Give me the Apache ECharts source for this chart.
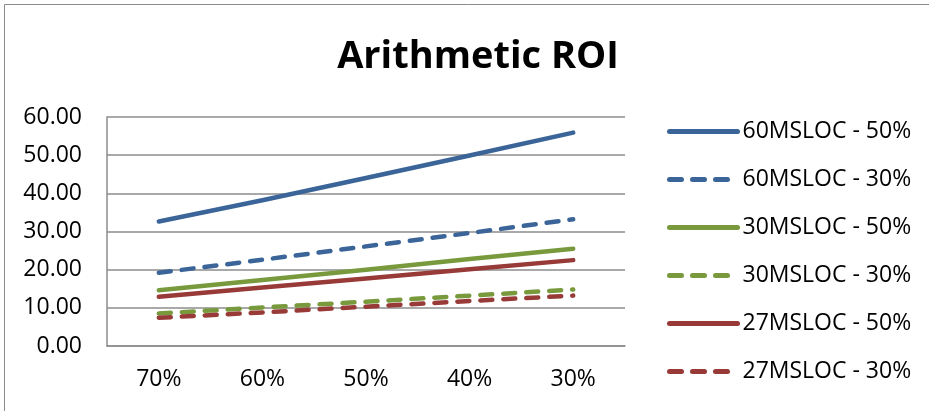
<!DOCTYPE html>
<html>
<head>
<meta charset="utf-8">
<script src="https://cdn.jsdelivr.net/npm/echarts@6/dist/echarts.min.js"></script>
<style>
  html, body { margin: 0; padding: 0; background: #ffffff; }
  #chart { width: 929px; height: 411px; }
</style>
</head>
<body>
<div id="chart"></div>
<script>
// Categories along the x axis
const categories = ['70%', '60%', '50%', '40%', '30%'];

// ROI values per scenario
const roi60_50 = [32.6, 38.2, 44.0, 49.9, 55.9];
const roi60_30 = [19.2, 22.6, 26.1, 29.6, 33.2];
const roi30_50 = [14.6, 17.3, 20.0, 22.8, 25.5];
const roi30_30 = [8.5, 10.1, 11.6, 13.2, 14.8];
const roi27_50 = [12.9, 15.3, 17.7, 20.1, 22.5];
const roi27_30 = [7.4, 8.8, 10.3, 11.8, 13.2];

const seriesNames = [
  '60MSLOC - 50%', '60MSLOC - 30%',
  '30MSLOC - 50%', '30MSLOC - 30%',
  '27MSLOC - 50%', '27MSLOC - 30%'
];
const seriesData = [roi60_50, roi60_30, roi30_50, roi30_30, roi27_50, roi27_30];
const seriesColors = ['#3b6598', '#3b6598', '#789a3d', '#789a3d', '#983a37', '#983a37'];
const seriesDashed = [false, true, false, true, false, true];

const FONT = '"Open Sans", "Liberation Sans", sans-serif';

const chart = echarts.init(document.getElementById('chart'), null, { renderer: 'canvas' });

chart.setOption({
  animation: false,
  backgroundColor: '#ffffff',
  graphic: [{
    type: 'rect',
    shape: { x: 4.5, y: 4.5, width: 940, height: 420 },
    style: { fill: 'none', stroke: '#8a8a8a', lineWidth: 1 },
    silent: true
  }],
  title: {
    text: 'Arithmetic ROI',
    left: 473,
    textAlign: 'center',
    top: 33,
    textStyle: { fontFamily: FONT, fontWeight: 'bold', fontSize: 38, color: '#000000' }
  },
  legend: {
    orient: 'vertical',
    left: 662,
    top: 115,
    itemWidth: 68,
    itemHeight: 14,
    itemGap: 25,
    itemStyle: { opacity: 0 },
    lineStyle: { width: 5, cap: 'round' },
    textStyle: { fontFamily: FONT, fontSize: 23, color: '#000000' },
    data: seriesNames
  },
  grid: { left: 107, right: 304, top: 117, bottom: 65, containLabel: false },
  xAxis: {
    type: 'category',
    data: categories,
    boundaryGap: true,
    axisLine: { lineStyle: { color: '#8c8c8c', width: 1.5 } },
    axisTick: { show: false },
    axisLabel: { margin: 22, fontFamily: FONT, fontSize: 23, color: '#000000' }
  },
  yAxis: {
    type: 'value',
    min: 0,
    max: 60,
    interval: 10,
    axisLine: { show: true, lineStyle: { color: '#8c8c8c', width: 1.5 } },
    axisTick: { show: false },
    splitLine: { lineStyle: { color: '#8c8c8c', width: 1.5 } },
    axisLabel: {
      margin: 25,
      fontFamily: FONT, fontSize: 23, color: '#000000',
      formatter: v => v.toFixed(2)
    }
  },
  series: seriesNames.map((name, i) => ({
    name: name,
    type: 'line',
    data: seriesData[i],
    showSymbol: false,
    symbol: 'none',
    color: seriesColors[i],
    lineStyle: {
      color: seriesColors[i],
      width: 4.5,
      cap: 'round',
      join: 'round',
      type: seriesDashed[i] ? [12, 11] : 'solid'
    }
  }))
});
</script>
</body>
</html>
